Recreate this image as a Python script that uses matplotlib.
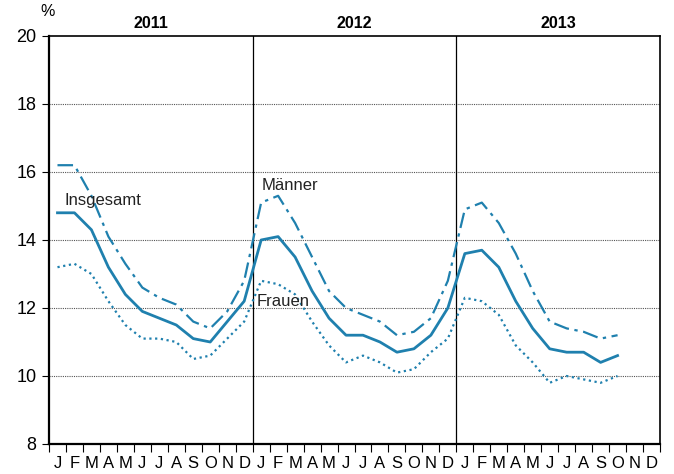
import matplotlib
matplotlib.use("Agg")
import matplotlib.pyplot as plt
import numpy as np

plt.rcParams['font.family'] = ['Liberation Sans', 'DejaVu Sans']

years = ["2011", "2012", "2013"]
months = ["J", "F", "M", "A", "M", "J", "J", "A", "S", "O", "N", "D"]

insgesamt = [14.8, 14.8, 14.3, 13.2, 12.4, 11.9, 11.7, 11.5, 11.1, 11.0, 11.6, 12.2,
             14.0, 14.1, 13.5, 12.5, 11.7, 11.2, 11.2, 11.0, 10.7, 10.8, 11.2, 12.0,
             13.6, 13.7, 13.2, 12.2, 11.4, 10.8, 10.7, 10.7, 10.4, 10.6]
maenner = [16.2, 16.2, 15.3, 14.1, 13.3, 12.6, 12.3, 12.1, 11.6, 11.4, 11.9, 12.8,
           15.1, 15.3, 14.5, 13.5, 12.5, 12.0, 11.8, 11.6, 11.2, 11.3, 11.7, 12.8,
           14.9, 15.1, 14.5, 13.6, 12.5, 11.6, 11.4, 11.3, 11.1, 11.2]
frauen = [13.2, 13.3, 13.0, 12.2, 11.5, 11.1, 11.1, 11.0, 10.5, 10.6, 11.1, 11.6,
          12.8, 12.7, 12.4, 11.6, 10.9, 10.4, 10.6, 10.4, 10.1, 10.2, 10.7, 11.1,
          12.3, 12.2, 11.8, 10.9, 10.4, 9.8, 10.0, 9.9, 9.8, 10.0]

color = '#1f80ae'

fig = plt.figure(figsize=(6.74, 4.74), dpi=100)
ax = fig.add_axes([49/674, 1-444/474, (660-49)/674, (444-36)/474])

x = np.arange(len(insgesamt)) + 0.5
ax.plot(x, insgesamt, color=color, lw=2.0, ls='-', zorder=3)
ax.plot(x[:len(maenner)], maenner, color=color, lw=1.6, ls=(0, (7, 2.5, 1.5, 2.5)), zorder=3)
ax.plot(x[:len(frauen)], frauen, color=color, lw=1.6, ls=(0, (1, 1.6)), zorder=3)

ax.set_xlim(0, 36)
ax.set_ylim(8, 20)

# horizontal grid lines
for yv in [10, 12, 14, 16, 18]:
    ax.axhline(yv, color='#555555', lw=0.8, ls=(0, (1, 1)), zorder=1)
# year dividers
for xv in [12, 24]:
    ax.axvline(xv, color='black', lw=0.9, zorder=2)

ax.set_yticks([8, 10, 12, 14, 16, 18, 20])
ax.tick_params(axis='y', direction='out', length=5, width=0.8, labelsize=13, pad=4)

ax.set_xticks(np.arange(0, 37))
ax.set_xticklabels([])
ax.set_xticks(np.arange(36) + 0.5, minor=True)
ax.set_xticklabels(months * 3, minor=True, fontsize=12)
ax.tick_params(axis='x', which='major', direction='out', length=6, width=0.8)
ax.tick_params(axis='x', which='minor', length=0, pad=9)

for s in ['left', 'bottom']:
    ax.spines[s].set_linewidth(1.6)
for s in ['top', 'right']:
    ax.spines[s].set_linewidth(1.2)

for i, yr in enumerate(years):
    ax.text(12 * i + 6, 20.15, yr, ha='center', va='bottom', fontsize=11.5, fontweight='bold')

ax.text(-0.1, 20.5, '%', ha='center', va='bottom', fontsize=11.5)

ax.text(0.9, 15.15, 'Insgesamt', ha='left', va='center', fontsize=12, color='#222222')
ax.text(12.5, 15.6, 'Männer', ha='left', va='center', fontsize=12, color='#222222')
ax.text(12.25, 12.2, 'Frauen', ha='left', va='center', fontsize=12, color='#222222')

fig.savefig('out.png', dpi=100)
